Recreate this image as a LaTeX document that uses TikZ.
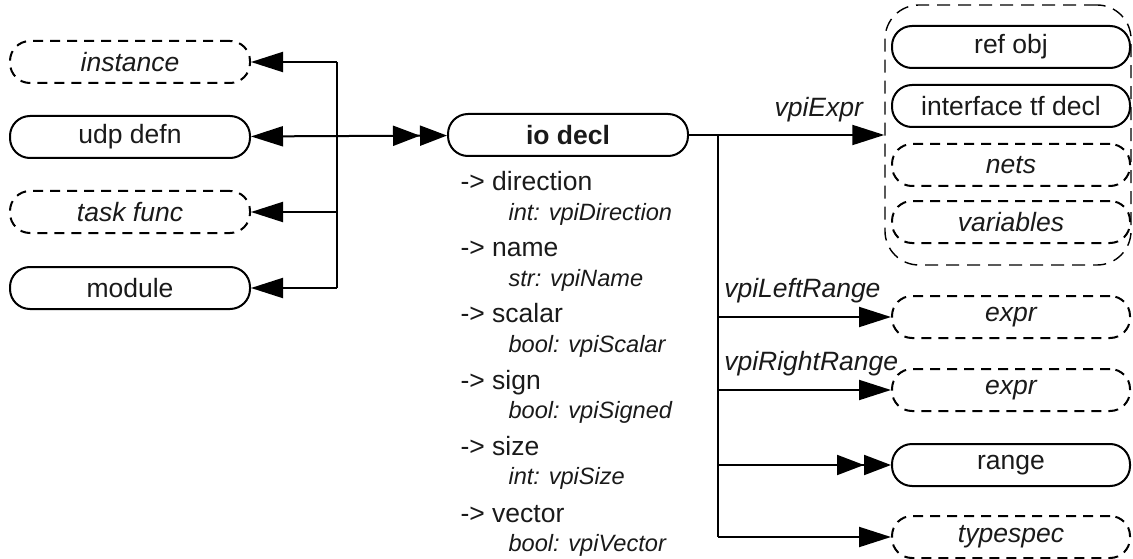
\documentclass[tikz,border=0pt]{standalone}
\usepackage{fontspec}
\setmainfont{Liberation Sans}
\usepackage{tikz}
\usetikzlibrary{arrows.meta,positioning}
\definecolor{UInk}{HTML}{1A1A1A}

\newcommand{\bigsz}{\fontsize{26.5}{30}\selectfont}
\newcommand{\smallsz}{\fontsize{23.6}{27}\selectfont}

\begin{document}
\begin{tikzpicture}[
  x=1pt,y=-1pt,
  obj/.style={draw,line width=2pt,rounded corners=20pt,minimum width=240pt,
    minimum height=42pt,inner sep=0pt,font=\bigsz,text=UInk},
  objd/.style={obj,dash pattern=on 10pt off 7pt,font=\bigsz\itshape},
  grp/.style={draw,line width=1.4pt,dash pattern=on 13pt off 8pt,rounded corners=34pt,
    minimum width=246pt,minimum height=260pt,inner sep=0pt},
  conn/.style={line width=2pt},
  tip/.style={conn,-{Triangle[length=32pt,width=20pt]}},
  tiptwo/.style={conn,-{Triangle[length=27pt,width=20pt,sep=0pt]Triangle[length=27pt,width=20pt,sep=0pt]}},
  lbl/.style={font=\bigsz\itshape,text=UInk},
  attr/.style={anchor=base west,font=\bigsz,text=UInk},
  attrtype/.style={anchor=base west,font=\smallsz\itshape,text=UInk}
]
  \useasboundingbox (0,0) rectangle (1133,559);
  % parents
  \node[objd] (instance) at (130,62) {instance};
  \node[obj,below=31pt of instance] (udp) {udp defn};
  \node[objd,below=31pt of udp] (taskfunc) {task func};
  \node[obj,below=32pt of taskfunc] (module) {module};
  \coordinate (bus) at (337,0);
  \coordinate (trunk) at (718,0);

  % io decl and its properties
  \node[obj,font=\bigsz\bfseries] (iodecl) at (568,135) {io decl};
  \foreach \t/\d [count=\i from 0] in {direction/int: vpiDirection,name/str: vpiName,
      scalar/bool: vpiScalar,sign/bool: vpiSigned,size/int: vpiSize,vector/bool: vpiVector}
  {
    \node[attr] (attr\i) at (457,{190+66.4*\i}) {-> \t};
    \node[attrtype] (attrtype\i) at (505,{220+66.2*\i}) {\d};
  }

  % vpiExpr group
  \node[grp] (vpiexpr) at (1008,135) {};
  \node[obj,minimum width=238pt] (refobj) at (1011,47) {ref obj};
  \node[obj,minimum width=238pt] (interfacetf) at (1011,106) {interface tf decl};
  \node[objd,minimum width=238pt] (nets) at (1011,165) {nets};
  \node[objd,minimum width=238pt] (variables) at (1011,222) {variables};

  % children
  \node[objd,minimum width=238pt] (leftexpr) at (1011,317) {expr};
  \node[objd,minimum width=238pt] (rightexpr) at (1011,390) {expr};
  \node[obj,minimum width=238pt] (range) at (1011,465) {range};
  \node[objd,minimum width=238pt] (typespec) at (1011,537) {typespec};

  \draw[conn] (instance.east -| bus) -- (module.east -| bus);
  \foreach \x in {instance,taskfunc,module}
    {\draw[tip] (\x.east -| bus) -- (\x.east);}
  \draw[conn,{Triangle[length=32pt,width=20pt]}-{Triangle[length=27pt,width=20pt,sep=0pt]Triangle[length=27pt,width=20pt,sep=0pt]}]
    (udp) -- (iodecl);

  \draw[tip] (iodecl) -- node[lbl,pos=1,anchor=base east,xshift=-17pt,yshift=18pt] {vpiExpr} (vpiexpr);
  \draw[conn] (iodecl.east -| trunk) -- (typespec.west -| trunk);
  \draw[tip] (leftexpr.west -| trunk) --
    node[lbl,pos=0,anchor=base west,xshift=2pt,yshift=20pt] {vpiLeftRange} (leftexpr.west);
  \draw[tip] (rightexpr.west -| trunk) --
    node[lbl,pos=0,anchor=base west,xshift=2pt,yshift=20pt] {vpiRightRange} (rightexpr.west);
  \draw[tiptwo] (range.west -| trunk) -- (range.west);
  \draw[tip] (typespec.west -| trunk) -- (typespec.west);
\end{tikzpicture}
\end{document}
